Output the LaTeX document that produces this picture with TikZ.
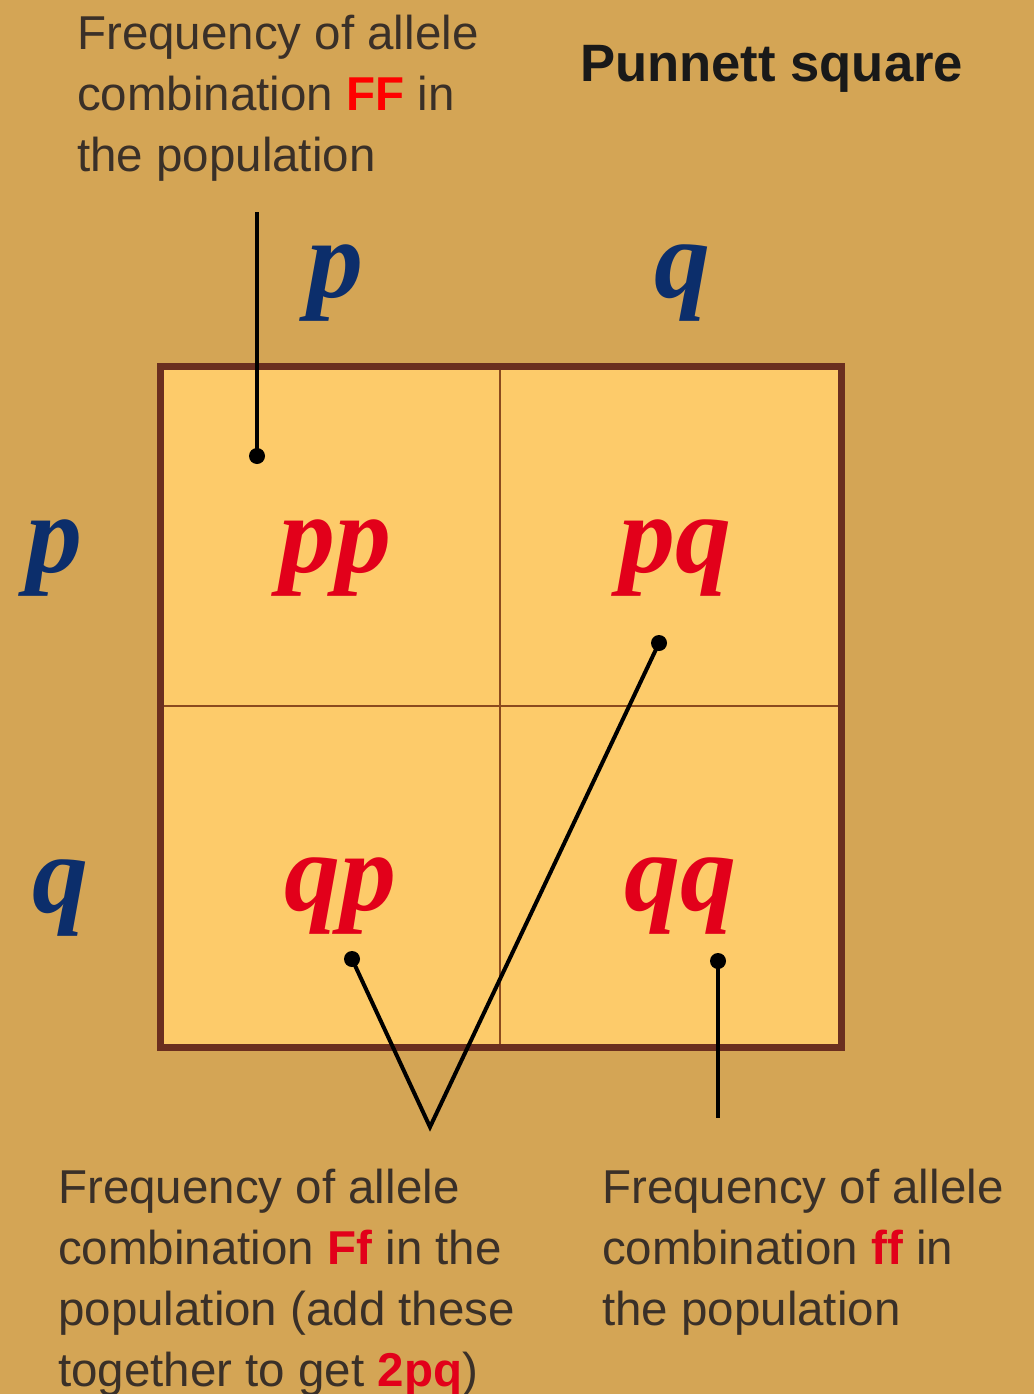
\documentclass[tikz,border=0pt]{standalone}
\usepackage{fontspec}
\setmainfont{Liberation Sans}
\newfontfamily\timesfam{Liberation Serif}
\definecolor{bg}{HTML}{D4A555}
\definecolor{cellfill}{HTML}{FDCB6A}
\definecolor{frame}{HTML}{6B2F1F}
\definecolor{grid}{HTML}{8B4A1E}
\definecolor{txt}{HTML}{3A3028}
\definecolor{hired}{HTML}{FF0000}
\definecolor{lored}{HTML}{E2001A}
\definecolor{allele}{HTML}{0C2E6B}
\tikzset{
  body/.style={anchor=base west, inner sep=0pt, align=left, text=txt,
    font=\fontsize{47.5}{61}\selectfont},
  cellsym/.style={anchor=base, inner sep=0pt, text=lored,
    font=\timesfam\bfseries\itshape\fontsize{112}{112}\selectfont},
  headsym/.style={anchor=base, inner sep=0pt, text=allele,
    font=\timesfam\bfseries\itshape\fontsize{112}{112}\selectfont},
  leader/.style={draw=black, line width=4pt},
  dotmark/.style={circle, fill=black, inner sep=0pt, minimum size=16pt}
}
\begin{document}
\begin{tikzpicture}[x=1pt, y=-1pt]
\fill[bg] (0,0) rectangle (1034,1394);
\useasboundingbox (0,0) rectangle (1034,1394);
% square
\fill[cellfill] (160,366) rectangle (841,1047);
\draw[grid, line width=2.5pt] (500,366) -- (500,1047);
\draw[grid, line width=2.5pt] (160,706) -- (841,706);
\draw[frame, line width=7pt] (160,366) rectangle (841,1047);
% headers
\node[headsym] (hp) at (335,297) {p};
\node[headsym] (hq) at (682,297) {q};
\node[headsym] (vp) at (55,572) {p};
\node[headsym] (vq) at (60,912) {q};
% cells
\node[cellsym] (pp) at (335,572) {pp};
\node[cellsym] (pq) at (675,572) {pq};
\node[cellsym] (qp) at (340,910) {qp};
\node[cellsym] (qq) at (680,910) {qq};
% title
\node[anchor=base west, inner sep=0pt, text=black!90,
  font=\bfseries\fontsize{52.6}{60}\selectfont] (title) at (580,82) {Punnett square};
% texts (base anchor = baseline of last line)
\node[body] (tFF) at (77,171) {Frequency of allele\\combination {\bfseries\color{hired}FF} in\\the population};
\node[body] (tFf) at (58,1386) {Frequency of allele\\combination {\bfseries\color{lored}Ff} in the\\population (add these\\together to get {\bfseries\color{lored}2pq})};
\node[body] (tff) at (602,1325) {Frequency of allele\\combination {\bfseries\color{lored}ff} in\\the population};
% leaders
\coordinate (a1) at (257,212);
\node[dotmark] (d1) at (257,456) {};
\draw[leader] (a1) -- (d1.center);
\node[dotmark] (d2) at (352,959) {};
\node[dotmark] (d3) at (659,643) {};
\coordinate (v) at (430,1127);
\draw[leader, line join=miter] (d2.center) -- (v) -- (d3.center);
\node[dotmark] (d4) at (718,961) {};
\coordinate (a4) at (718,1118);
\draw[leader] (d4.center) -- (a4);
\end{tikzpicture}
\end{document}
